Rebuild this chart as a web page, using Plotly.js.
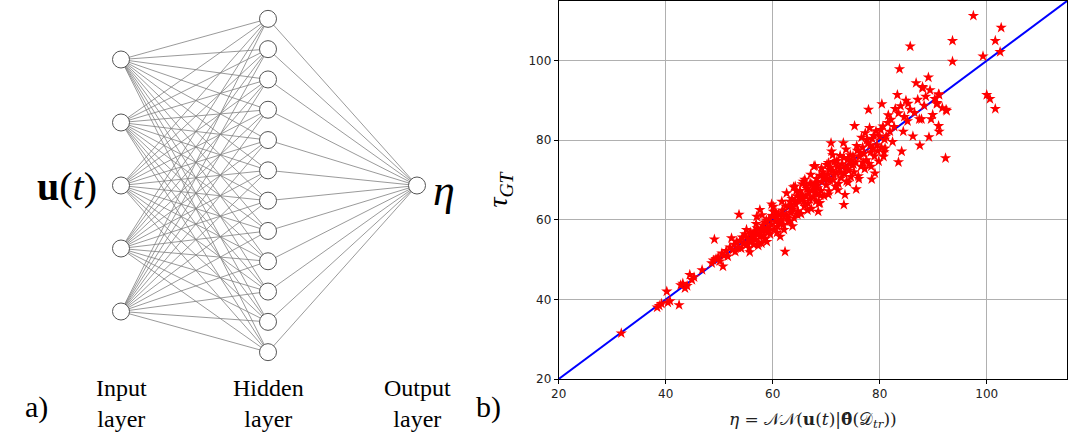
<!DOCTYPE html>
<html><head><meta charset="utf-8">
<script src="https://cdn.plot.ly/plotly-3.0.1.min.js"></script>
<style>html,body{margin:0;padding:0;background:#fff}#chart{width:1068px;height:445px}</style>
</head><body><div id="chart"></div>
<script>
// ---- Panel a) network diagram data ----
const layerNames = ['Input<br>layer', 'Hidden<br>layer', 'Output<br>layer'];
const layerSizes = [5, 12, 1];
const inputLabel = '<b>u</b>(<i>t</i>)';
const outputLabel = '<i>η</i>';

// ---- Panel b) scatter data: predicted eta vs ground truth tau ----
const etaPred = [31.7,38.4,38.8,39.2,40.2,40.4,40.8,42.5,42.8,43.2,43.6,44.0,44.5,44.9,45.3,46.8,
48.6,48.9,49.1,49.4,49.8,50.1,50.5,50.7,50.9,51.3,51.6,52.0,52.3,52.5,52.8,53.0,53.3,53.7,53.5,53.9,54.1,54.3,54.6,54.8,55.1,55.0,55.4,55.6,55.8,
56.0,56.2,56.4,56.6,56.8,57.0,57.2,57.4,57.6,57.6,57.8,57.9,58.1,58.3,58.5,58.7,58.9,59.1,59.3,59.5,59.7,59.9,60.1,60.1,60.3,60.5,60.7,60.9,61.1,61.4,61.6,61.8,62.0,62.3,
62.5,62.6,62.9,63.0,63.2,63.2,63.4,63.6,63.8,64.0,64.2,64.3,64.5,64.7,64.9,65.1,65.3,65.4,65.6,65.7,65.9,66.0,66.2,66.4,66.6,66.8,67.0,67.2,67.4,67.7,67.6,67.9,67.8,68.0,68.2,68.5,68.4,68.6,68.8,68.8,69.0,69.2,69.4,69.6,69.8,70.0,70.1,70.3,70.4,70.5,70.7,70.6,70.9,71.0,71.1,71.3,71.5,71.7,71.9,72.1,72.3,72.6,72.5,72.8,73.0,73.2,73.3,73.5,73.4,73.6,73.8,74.0,74.2,74.4,74.6,74.8,75.0,75.3,75.5,75.2,75.6,75.8,76.0,76.2,76.5,76.8,77.0,77.3,77.2,77.5,77.9,77.8,78.1,78.0,78.3,78.5,78.8,78.6,79.1,79.0,79.3,79.5,79.8,80.0,80.4,80.6,80.7,80.3,81.0,81.2,81.5,81.9,82.1,82.4,82.9,83.3,83.5,83.5,83.7,84.1,84.4,84.9,85.2,85.7,85.7,86.2,86.8,87.4,87.5,87.8,88.0,88.0,88.6,89.1,89.2,89.6,89.9,90.7,90.7,91.0,91.0,91.1,91.1,91.7,92.3,92.4,92.5,93.6,93.6,97.5,99.3,100.0,100.6,101.6,101.6,102.5,102.7,
55.2,55.9,56.5,57.1,57.7,58.4,58.8,59.4,60.0,60.6,61.2,61.9,62.4,62.8,63.5,64.1,64.6,65.2,65.8,66.3,66.9,67.3,67.9,68.3,68.9,69.5,70.2,70.8,71.4,72.0,72.7,73.3,73.9,74.5,75.1,75.7,76.3,76.9,77.6,78.2,78.9,79.6,80.2,80.9,81.6,82.7,83.9,84.6,85.3,86.5,87.1,88.3,89.4,90.3,64.4,63.9,61.7,59.8,58.0,56.9,65.5,67.1,69.1,71.2,73.7,76.6,66.5,68.1,70.4,72.2,74.1,76.1,78.4,80.8,60.8,62.1,63.7,58.6,57.3,55.7];
const tauGT = [31.5,38.0,38.4,38.9,42.0,39.2,39.6,38.6,43.6,44.0,42.8,43.4,46.2,44.9,45.6,47.4,
49.1,49.8,55.1,50.2,50.6,49.6,51.6,48.3,51.0,52.2,50.8,53.1,55.4,52.4,53.8,52.0,54.5,61.3,53.0,54.8,52.8,55.6,54.0,56.4,57.5,53.6,55.2,52.9,56.8,
54.6,55.9,53.8,57.2,55.0,60.8,56.3,54.2,62.5,55.8,57.5,54.1,58.6,56.0,59.4,57.1,54.5,58.0,60.2,56.4,58.9,61.0,62.1,63.3,57.6,59.5,60.6,58.3,61.4,55.8,60.0,62.4,58.8,52.0,
61.2,66.7,59.6,63.5,64.6,59.6,61.8,65.3,62.7,60.4,68.4,63.9,66.0,62.2,64.8,67.3,61.5,65.0,66.2,69.6,63.4,70.1,65.9,67.8,64.1,66.9,69.2,62.8,67.5,73.4,65.7,73.6,68.4,66.6,70.3,62.1,68.0,64.2,64.2,71.1,67.3,69.6,72.0,66.0,70.4,68.7,73.8,71.5,74.3,67.2,69.9,72.6,79.3,77.2,72.3,70.0,74.6,68.4,71.8,73.5,69.1,76.1,72.8,70.5,74.0,79.3,63.8,66.3,71.6,73.3,69.7,75.2,72.4,74.8,70.8,73.7,76.0,83.6,74.5,72.0,67.7,77.4,71.0,75.8,73.4,78.2,76.6,81.8,72.8,75.0,87.7,79.3,83.1,74.1,77.0,70.2,78.0,80.4,71.7,76.0,82.3,78.8,74.7,80.9,89.1,83.5,75.9,78.2,78.0,81.0,84.4,82.2,85.2,79.6,87.9,91.4,86.8,74.5,97.9,77.2,82.2,90.0,84.8,87.7,103.6,81.0,94.4,85.3,78.7,85.3,93.1,93.4,91.0,95.8,80.8,85.3,86.4,89.4,89.1,91.6,83.6,82.2,91.4,88.1,75.5,87.7,87.4,105.0,99.8,111.3,101.1,91.4,90.4,87.9,105.0,102.2,108.3,
54.1,55.3,56.1,57.9,56.7,57.7,59.9,57.3,60.8,61.9,59.2,61.1,63.4,60.7,63.0,64.5,61.3,66.1,64.6,68.5,65.2,68.9,67.0,69.4,66.1,70.9,70.0,73.1,71.2,74.8,71.9,75.6,72.7,76.3,73.9,78.6,76.9,74.4,80.1,78.7,81.1,77.3,82.6,80.2,86.3,83.4,88.6,85.9,89.2,86.9,90.2,88.7,92.6,90.4,67.3,68.2,64.6,63.9,61.2,59.0,69.0,71.4,73.0,76.3,77.7,80.7,62.4,64.7,66.4,67.5,69.4,70.3,73.4,77.0,56.8,57.5,58.4,55.2,53.5,51.9];
const axisRange = [20, 115];
const tickVals = [20, 40, 60, 80, 100];

// ---- build network geometry ----
const layerX = [121, 268, 417];       // pixel-space x of each layer (style)
const layerSpacing = [63, 30.3, 0];  // vertical spacing (style)
const centerY = 185.5;
const nodes = layerSizes.map((n, li) => {
  const arr = [];
  for (let i = 0; i < n; i++) arr.push([layerX[li], centerY + (i - (n - 1) / 2) * layerSpacing[li]]);
  return arr;
});
const ex = [], ey = [];
for (let li = 0; li < nodes.length - 1; li++) {
  for (const a of nodes[li]) for (const b of nodes[li + 1]) { ex.push(a[0], b[0], null); ey.push(a[1], b[1], null); }
}
const nx = [], ny = [];
nodes.forEach(l => l.forEach(p => { nx.push(p[0]); ny.push(p[1]); }));

const serif = 'Liberation Serif, DejaVu Serif, serif';
const traces = [
  {x: ex, y: ey, xaxis: 'x2', yaxis: 'y2', mode: 'lines', line: {color: '#808080', width: 0.8}, hoverinfo: 'skip', showlegend: false},
  {x: nx, y: ny, xaxis: 'x2', yaxis: 'y2', mode: 'markers', marker: {size: 17, color: '#ffffff', line: {color: '#555555', width: 1}}, hoverinfo: 'skip', showlegend: false},
  {x: axisRange, y: axisRange, mode: 'lines', line: {color: '#0000ff', width: 2}, showlegend: false},
  {x: etaPred, y: tauGT, mode: 'markers', marker: {symbol: 'star', size: 8.5, color: '#ff0000', line: {width: 0}}, showlegend: false}
];

const annotations = [];
layerNames.forEach((name, i) => annotations.push({xref: 'x2', yref: 'y2', x: layerX[i], y: 403, text: name, showarrow: false, font: {family: serif, size: 24, color: '#000'}, align: 'center'}));
annotations.push({xref: 'x2', yref: 'y2', x: 67, y: 186, text: inputLabel, showarrow: false, font: {family: serif, size: 40, color: '#000'}});
annotations.push({xref: 'x2', yref: 'y2', x: 444, y: 190, text: outputLabel, showarrow: false, font: {family: serif, size: 44, color: '#000'}});
annotations.push({xref: 'paper', yref: 'paper', x: 23/1068, y: 1 - 426/445, text: 'a)', showarrow: false, font: {family: serif, size: 30, color: '#000'}});
annotations.push({xref: 'paper', yref: 'paper', x: 488/1068, y: 1 - 426/445, text: 'b)', showarrow: false, font: {family: serif, size: 30, color: '#000'}});

const layout = {
  width: 1068, height: 445,
  margin: {l: 0, r: 0, t: 0, b: 0},
  paper_bgcolor: '#fff', plot_bgcolor: '#fff',
  showlegend: false,
  xaxis: {domain: [558.7/1068, 1067/1068], range: axisRange, tickvals: tickVals, ticks: 'outside', ticklen: 4, tickcolor: '#000',
    showgrid: true, gridcolor: '#b0b0b0', gridwidth: 1, zeroline: false, showline: true, linecolor: '#000', linewidth: 1, mirror: true,
    tickfont: {family: 'DejaVu Sans, sans-serif', size: 12, color: '#222'},
    title: {text: '<i>η</i> = 𝒩𝒩(<b>u</b>(<i>t</i>)|<b>θ̂</b>(𝒟<sub><i>tr</i></sub>))', font: {family: 'DejaVu Serif, serif', size: 17, color: '#222'}, standoff: 12}},
  yaxis: {domain: [1 - 379/445, 1 - 1/445], range: axisRange, tickvals: tickVals, ticks: 'outside', ticklen: 4, tickcolor: '#000',
    showgrid: true, gridcolor: '#b0b0b0', gridwidth: 1, zeroline: false, showline: true, linecolor: '#000', linewidth: 1, mirror: true,
    tickfont: {family: 'DejaVu Sans, sans-serif', size: 12, color: '#222'},
    title: {text: '<i>τ</i><sub><i>GT</i></sub>', font: {family: serif, size: 28, color: '#000'}, standoff: 12}},
  xaxis2: {domain: [0, 470/1068], range: [0, 470], visible: false, fixedrange: true, anchor: 'y2'},
  yaxis2: {domain: [0, 1], range: [445, 0], visible: false, fixedrange: true, anchor: 'x2'},
  annotations: annotations
};
Plotly.newPlot('chart', traces, layout, {staticPlot: true, displayModeBar: false});
</script></body></html>
